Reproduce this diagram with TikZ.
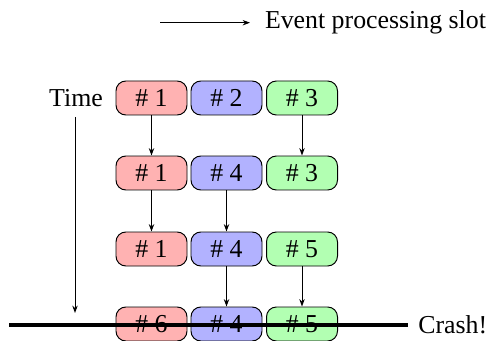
\documentclass[tikz,border=0pt]{standalone}
\usepackage{fontspec}
\setmainfont{Liberation Serif}
\usetikzlibrary{arrows.meta}
\begin{document}
\begin{tikzpicture}[x=0.4065pt,y=-0.4065pt,
  every node/.style={font=\fontsize{10.5}{12.6}\selectfont},
  slot/.style={draw=black, line width=0.4pt, rounded corners=4pt, minimum width=28.86pt, minimum height=13.82pt, inner sep=0pt},
  rs/.style={slot, fill=red!30},
  bs/.style={slot, fill=blue!30},
  gs/.style={slot, fill=green!30},
  arr/.style={-{Stealth[length=3pt,width=2.2pt]}, line width=0.4pt}]
\clip (0,0) rectangle (489,340);
% legend
\coordinate (evs) at (160,22.7);
\node[anchor=west, inner xsep=5.9pt] (ev) at (250,22.7) {Event processing slot};
\draw[arr] (evs) -- (ev.west);
% rows
\node[rs] (a1) at (151.5,98) {\# 1};
\node[bs] (b1) at (226.5,98) {\# 2};
\node[gs] (c1) at (302,98) {\# 3};
\node[rs] (a2) at (151.5,173) {\# 1};
\node[bs] (b2) at (226.5,173) {\# 4};
\node[gs] (c2) at (302,173) {\# 3};
\node[rs] (a3) at (151.5,249) {\# 1};
\node[bs] (b3) at (226.5,249) {\# 4};
\node[gs] (c3) at (302,249) {\# 5};
\node[rs] (a4) at (151.5,324) {\# 6};
\node[bs] (b4) at (226.5,324) {\# 4};
\node[gs] (c4) at (302,324) {\# 5};
\draw[arr] (a1) -- (a2);
\draw[arr] (c1) -- (c2);
\draw[arr] (a2) -- (a3);
\draw[arr] (b2) -- (b3);
\draw[arr] (b3) -- (b4);
\draw[arr] (c3) -- (c4);
% time
\node (time) at (76,98) {Time};
\coordinate (ts) at (75,117);
\coordinate (te) at (75,313);
\draw[arr] (ts) -- (te);
% crash
\coordinate (cs) at (9,325);
\node[anchor=west, inner xsep=4pt] (crash) at (408,325) {Crash!};
\draw[line width=1.6pt] (cs) -- (crash.west);
\end{tikzpicture}
\end{document}
